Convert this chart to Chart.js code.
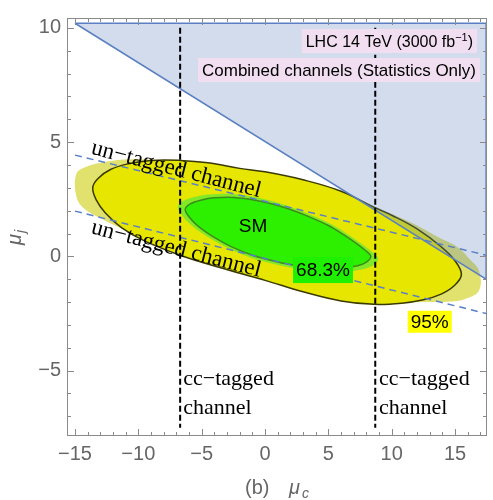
<!DOCTYPE html>
<html>
<head>
<meta charset="utf-8">
<script src="https://cdn.jsdelivr.net/npm/chart.js@4/dist/chart.umd.min.js"></script>
<style>
  html, body { margin: 0; padding: 0; background: #fff; }
</style>
</head>
<body>
<canvas id="fitChart" width="493" height="500"></canvas>
<script>
// axis ranges and ticks (mu_c on x, mu_j on y)
var xRange = [-15.63, 17.52];
var yRange = [-7.86, 10.43];
var xTicks = [-15, -10, -5, 0, 5, 10, 15];
var yTicks = [-5, 0, 5, 10];

// contours, [mu_c, mu_j]
var halo95 = [[-3.5, -0.45], [0, -1.0], [3, -1.5], [6, -1.9], [8.6, -2.05], [11, -2.02], [12.8, -2.0],
  [14.6, -1.98], [15.9, -1.84], [16.9, -1.48], [16.9, -0.65], [16.2, -0.15], [15.2, 0.4], [13.8, 0.8],
  [12, 1.35], [10, 1.85], [8.6, 2.15], [6, 2.75], [3, 3.25], [0, 3.6], [-3, 3.85], [-7, 4.15],
  [-10.5, 4.25], [-12.75, 4.12], [-14.3, 3.88], [-14.9, 3.6], [-14.9, 2.65], [-14.3, 2.1],
  [-12.75, 1.6], [-10.1, 0.9], [-8, 0.35], [-6.7, 0.1]];
var region95 = [[-3.5, -0.5], [0, -1.05], [3.0, -1.55], [6.0, -1.95], [8.6, -2.1], [10.8, -2.05],
  [12.5, -1.9], [13.9, -1.65], [14.9, -1.3], [15.5, -0.8], [15.0, -0.2], [13.9, 0.42], [12.0, 1.2],
  [10.0, 1.8], [8.6, 2.15], [6.0, 2.85], [3.0, 3.35], [0, 3.7], [-2.0, 3.85], [-4.5, 4.1], [-6.7, 4.2],
  [-9.0, 4.2], [-10.8, 4.05], [-12.2, 3.8], [-13.2, 3.4], [-13.6, 3.0], [-13.3, 2.45], [-12.6, 1.9],
  [-11.3, 1.25], [-9.6, 0.7], [-6.7, 0.05]];
var halo68 = [[-2.78, 2.74], [-1.16, 2.63], [0.46, 2.43], [2.08, 2.15], [3.7, 1.8], [5.32, 1.38],
  [6.61, 0.94], [7.69, 0.52], [8.45, 0.19], [8.94, -0.1], [8.56, -0.38], [7.8, -0.55], [6.61, -0.65],
  [5.32, -0.68], [3.7, -0.62], [2.08, -0.5], [0.46, -0.3], [-1.16, -0.05], [-2.78, 0.32],
  [-3.97, 0.67], [-5.05, 1.04], [-5.92, 1.42], [-6.51, 1.77], [-6.89, 2.15], [-6.45, 2.43],
  [-5.48, 2.61], [-4.4, 2.71]];
var region68 = [[-2.5, 2.58], [-1.0, 2.48], [0.5, 2.3], [2.0, 2.05], [3.5, 1.73], [5.0, 1.35],
  [6.2, 0.95], [7.2, 0.57], [7.9, 0.27], [8.35, 0.0], [8.0, -0.25], [7.3, -0.41], [6.2, -0.5],
  [5.0, -0.52], [3.5, -0.47], [2.0, -0.36], [0.5, -0.18], [-1.0, 0.05], [-2.5, 0.38], [-3.6, 0.7],
  [-4.6, 1.04], [-5.4, 1.38], [-5.95, 1.7], [-6.3, 2.05], [-5.9, 2.3], [-5.0, 2.47], [-4.0, 2.56]];
var excluded = [[-15, 10.2], [17.45, 10.2], [17.45, -1.0], [-15, 10.2]];
var untaggedUpper = [[-15, 4.43], [17.45, 0.05]];
var untaggedLower = [[-15, 1.98], [17.45, -2.5]];
var ccLeft = [[-6.7, 10.0], [-6.7, -7.5]];
var ccRight = [[8.7, 10.0], [8.7, -7.5]];

var SANS = '"Liberation Sans", Arial, sans-serif';
var SERIF = '"Liberation Serif", "Times New Roman", serif';

function toXY(pts) {
  return pts.map(function (p) { return { x: p[0], y: p[1] }; });
}
// repeat the first two points so the spline closes smoothly
function closed(pts) {
  return toXY(pts.concat([pts[0], pts[1]]));
}

var framePlugin = {
  id: 'frame',
  afterDatasetsDraw: function (chart) {
    var ctx = chart.ctx, a = chart.chartArea;
    var xs = chart.scales.x, ys = chart.scales.y;
    ctx.save();
    ctx.strokeStyle = '#8a8a8a';
    ctx.lineWidth = 1;
    ctx.strokeRect(a.left + 0.5, a.top + 0.5, a.right - a.left - 1, a.bottom - a.top - 1);
    ctx.beginPath();
    for (var v = Math.ceil(xRange[0]); v <= xRange[1]; v++) {
      var len = v % 5 === 0 ? 7 : 4;
      var x = Math.round(xs.getPixelForValue(v)) + 0.5;
      ctx.moveTo(x, a.bottom); ctx.lineTo(x, a.bottom - len);
      ctx.moveTo(x, a.top); ctx.lineTo(x, a.top + len);
    }
    for (var w = Math.ceil(yRange[0]); w <= yRange[1]; w++) {
      var l2 = w % 5 === 0 ? 7 : 4;
      var y = Math.round(ys.getPixelForValue(w)) + 0.5;
      ctx.moveTo(a.left, y); ctx.lineTo(a.left + l2, y);
      ctx.moveTo(a.right, y); ctx.lineTo(a.right - l2, y);
    }
    ctx.stroke();
    ctx.restore();
  }
};

function boxText(ctx, text, cx, cy, font, bg, w, h) {
  ctx.fillStyle = bg;
  ctx.fillRect(cx - w / 2, cy - h / 2, w, h);
  ctx.fillStyle = '#000';
  ctx.font = font;
  ctx.textAlign = 'center';
  ctx.textBaseline = 'middle';
  ctx.fillText(text, cx, cy + 1);
}

var labelPlugin = {
  id: 'labels',
  afterDraw: function (chart) {
    var ctx = chart.ctx, a = chart.chartArea;
    var xs = chart.scales.x, ys = chart.scales.y;
    var px = function (v) { return xs.getPixelForValue(v); };
    var py = function (v) { return ys.getPixelForValue(v); };
    ctx.save();

    // channel labels
    ctx.fillStyle = '#000';
    ctx.font = '23px ' + SERIF;
    ctx.textAlign = 'left';
    ctx.textBaseline = 'alphabetic';
    [[-13.8, 4.5], [-13.8, 1.02]].forEach(function (p) {
      ctx.save();
      ctx.translate(px(p[0]), py(p[1]));
      ctx.rotate(14.5 * Math.PI / 180);
      ctx.fillText('un\u2212tagged channel', 0, 0);
      ctx.restore();
    });
    ctx.font = '22px ' + SERIF;
    [-6.45, 9.0].forEach(function (x) {
      ctx.fillText('cc\u2212tagged', px(x), py(-5.61));
      ctx.fillText('channel', px(x), py(-6.9));
    });

    // SM point and CL tags
    ctx.font = '19px ' + SANS;
    ctx.textAlign = 'center';
    ctx.textBaseline = 'middle';
    ctx.fillText('SM', px(-0.95), py(1.28));
    boxText(ctx, '68.3%', px(4.58), py(-0.6), '19px ' + SANS, '#1ef000', 60, 26);
    boxText(ctx, '95%', px(13.0), py(-2.86), '19px ' + SANS, '#ffff00', 44, 22);

    // legend-style boxes, top right
    ctx.font = '16px ' + SANS;
    var t1 = 'LHC 14 TeV (3000 fb';
    var w1 = ctx.measureText(t1).width;
    ctx.font = '11px ' + SANS;
    var ws = ctx.measureText('\u22121').width;
    ctx.font = '16px ' + SANS;
    var wp = ctx.measureText(')').width;
    var total1 = w1 + ws + wp;
    var r1 = a.right - 10, top1 = a.top + 11;
    ctx.fillStyle = '#f1dff1';
    ctx.fillRect(r1 - total1 - 8, top1, total1 + 8, 24);
    ctx.fillStyle = '#000';
    ctx.textAlign = 'left';
    ctx.textBaseline = 'alphabetic';
    var x1 = r1 - total1 - 4, b1 = top1 + 18;
    ctx.fillText(t1, x1, b1);
    ctx.font = '11px ' + SANS;
    ctx.fillText('\u22121', x1 + w1, b1 - 6);
    ctx.font = '16px ' + SANS;
    ctx.fillText(')', x1 + w1 + ws, b1);

    ctx.font = '17px ' + SANS;
    var t2 = 'Combined channels (Statistics Only)';
    var w2 = ctx.measureText(t2).width;
    var r2 = a.right - 7, top2 = a.top + 40;
    ctx.fillStyle = '#f1dff1';
    ctx.fillRect(r2 - w2 - 8, top2, w2 + 8, 24);
    ctx.fillStyle = '#000';
    ctx.fillText(t2, r2 - w2 - 4, top2 + 18);

    // axis titles
    ctx.fillStyle = '#666';
    var cx = (a.left + a.right) / 2 - 32, base = a.bottom + 58;
    ctx.font = '20px ' + SANS;
    ctx.fillText('(b)', cx, base);
    ctx.font = 'italic 20px ' + SANS;
    ctx.fillText('\u03bc', cx + 44, base);
    ctx.font = 'italic 14px ' + SANS;
    ctx.fillText('c', cx + 57, base + 4);

    ctx.save();
    ctx.translate(21, (a.top + a.bottom) / 2 + 18);
    ctx.rotate(-Math.PI / 2);
    ctx.font = 'italic 20px ' + SANS;
    ctx.fillText('\u03bc', 0, 0);
    ctx.font = 'italic 14px ' + SANS;
    ctx.fillText('j', 12, 4);
    ctx.restore();

    ctx.restore();
  }
};

var tickFont = { family: SANS, size: 20 };
function minusSign(v) { return String(v).replace('-', '\u2212'); }

var ctx = document.getElementById('fitChart').getContext('2d');
var fitChart = new Chart(ctx, {
  type: 'line',
  data: {
    datasets: [
      { data: toXY(ccRight), borderColor: '#000', borderWidth: 2, borderDash: [6, 3], fill: false, order: 1 },
      { data: toXY(ccLeft), borderColor: '#000', borderWidth: 2, borderDash: [6, 3], fill: false, order: 2 },
      { data: toXY(excluded), borderColor: '#5b80c2', borderWidth: 1.5, backgroundColor: 'rgba(95,130,185,0.28)', fill: 'shape', order: 3 },
      { data: toXY(untaggedLower), borderColor: '#5a80c8', borderWidth: 1.5, borderDash: [7, 5], fill: false, order: 4 },
      { data: toXY(untaggedUpper), borderColor: '#5a80c8', borderWidth: 1.5, borderDash: [7, 5], fill: false, order: 5 },
      { data: closed(region68), borderColor: '#3b8d19', borderWidth: 1.5, backgroundColor: '#2cf000', fill: 'shape', tension: 0.35, order: 6 },
      { data: closed(halo68), borderWidth: 0, backgroundColor: 'rgb(130,232,40)', fill: 'shape', tension: 0.35, order: 7 },
      { data: closed(region95), borderColor: '#3a3a00', borderWidth: 1.5, backgroundColor: '#e6e600', fill: 'shape', tension: 0.4, order: 8 },
      { data: closed(halo95), borderWidth: 0, backgroundColor: 'rgb(225,225,110)', fill: 'shape', tension: 0.4, order: 9 }
    ]
  },
  options: {
    responsive: false,
    animation: false,
    layout: { padding: { top: 8, right: 6 } },
    elements: { point: { radius: 0, hoverRadius: 0 } },
    plugins: { legend: { display: false }, tooltip: { enabled: false } },
    scales: {
      x: {
        type: 'linear',
        min: xRange[0],
        max: xRange[1],
        afterFit: function (s) { s.height = 64; },
        afterBuildTicks: function (s) { s.ticks = xTicks.map(function (v) { return { value: v }; }); },
        grid: { display: false, drawTicks: false },
        border: { display: false },
        ticks: { color: '#666', font: tickFont, padding: 6, maxRotation: 0, autoSkip: false, callback: minusSign }
      },
      y: {
        type: 'linear',
        min: yRange[0],
        max: yRange[1],
        afterFit: function (s) { s.width = 67; },
        afterBuildTicks: function (s) { s.ticks = yTicks.map(function (v) { return { value: v }; }); },
        grid: { display: false, drawTicks: false },
        border: { display: false },
        ticks: { color: '#666', font: tickFont, padding: 6, callback: minusSign }
      }
    }
  },
  plugins: [framePlugin, labelPlugin]
});
</script>
</body>
</html>
